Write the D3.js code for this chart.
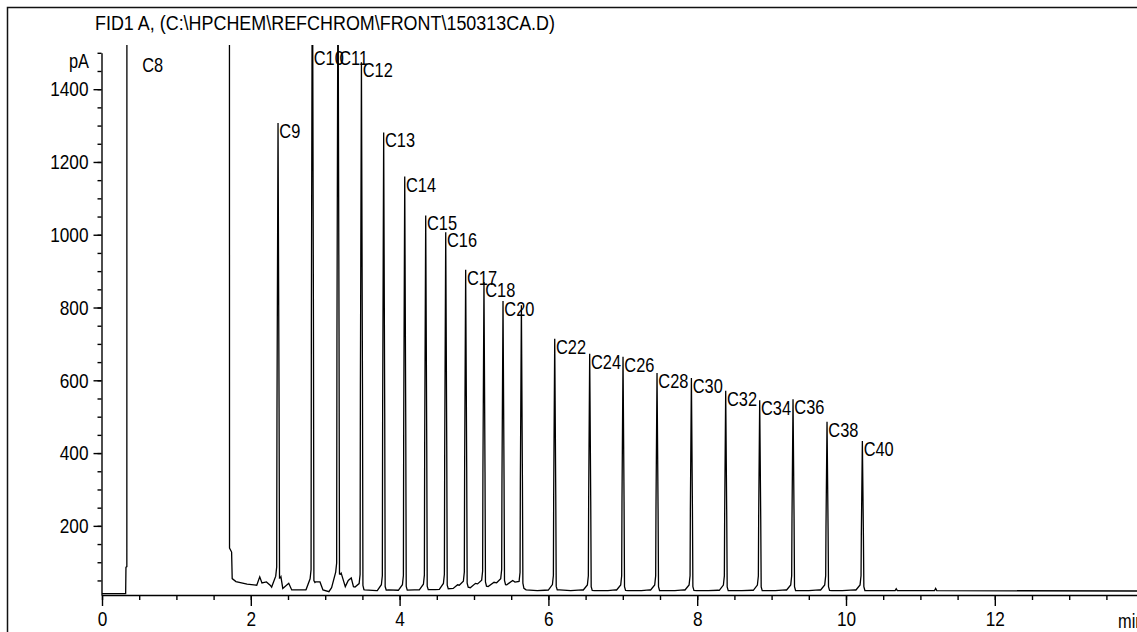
<!DOCTYPE html>
<html>
<head>
<meta charset="utf-8">
<script src="https://cdn.jsdelivr.net/npm/d3@7"></script>
<style>
  html, body { margin: 0; padding: 0; background: #fff; }
  svg { display: block; }
  text { font-family: "Liberation Sans", Arial, sans-serif; font-size: 20px; fill: #000; }
</style>
</head>
<body>
<svg id="chart" width="1137" height="632"></svg>
<script>
// ---------------- data ----------------
const titleText = "FID1 A, (C:\\HPCHEM\\REFCHROM\\FRONT\\150313CA.D)";
const yUnit = "pA";
const xUnit = "min";

// labelled / unlabelled peaks (retention time in min, apex in pA)
const peakNames   = ["C9", "C10", "C11", "C12", "C13", "C14", "C15", "C16", "C17", "C18", "C20", "",
                     "C22", "C24", "C26", "C28", "C30", "C32", "C34", "C36", "C38", "C40"];
const peakTimes   = [2.370, 2.832, 3.176, 3.491, 3.790, 4.073, 4.355, 4.624, 4.892, 5.138, 5.394, 5.641,
                     6.089, 6.559, 7.007, 7.464, 7.926, 8.387, 8.844, 9.292, 9.749, 10.224];
const peakHeights = [1307, 1900, 1800, 1474, 1281, 1160, 1053, 1007, 904, 870, 818, 806,
                     714, 673, 665, 620, 606, 571, 545, 548, 486, 433];

// solvent (C8) peak, off scale
const solventName = "C8";
const solventApexTime = 0.52;
const solventTimes  = [0, 0.300, 0.318, 0.322, 0.334, 0.338, 1.708, 1.714, 1.742, 1.750, 1.800];
const solventValues = [14, 14, 14, 86, 88, 9000, 9000, 139, 128, 55, 47];

// baseline between the peaks
const baselineTimes  = [1.80, 1.95, 2.08, 2.12, 2.15, 2.21, 2.26, 2.31, 2.405, 2.43, 2.51, 2.55, 2.74,
                        2.87, 2.93, 2.97, 3.05, 3.215, 3.27, 3.31, 3.35, 3.38, 3.53, 3.69,
                        3.85, 3.98, 4.20, 4.48, 4.72, 4.78, 4.95, 5.02, 5.19, 5.27, 5.44, 5.52,
                        5.70, 5.85, 5.95, 6.15, 6.30, 6.45, 6.62, 6.80, 6.90, 7.07, 7.25, 7.36,
                        7.52, 7.70, 7.82, 7.99, 8.15, 8.28, 8.45, 8.60, 8.74, 8.90, 9.05, 9.19,
                        9.35, 9.50, 9.64, 9.81, 9.95, 10.12, 10.28, 10.66, 10.675, 10.69,
                        11.19, 11.205, 11.22, 13.95];
const baselineValues = [47, 40, 37, 60, 43, 46, 37, 24, 60, 28, 42, 24, 24,
                        46, 46, 24, 19, 70, 33, 50, 57, 33, 24, 22,
                        24, 23, 24, 25, 28, 38, 30, 42, 33, 45, 38, 50,
                        24, 22, 23, 24, 22, 24, 22, 22, 24, 22, 22, 24,
                        22, 22, 24, 22, 22, 23, 22, 22, 23, 22, 22, 24,
                        22, 22, 24, 22, 22, 24, 22, 22, 27, 22,
                        22, 28, 22, 21];

const xMajorTicks = [0, 2, 4, 6, 8, 10, 12];
const yMajorTicks = [200, 400, 600, 800, 1000, 1200, 1400];

// ---------------- layout ----------------
const svg = d3.select("#chart");
const W = 1137, H = 632;
const x = d3.scaleLinear().domain([0, 14]).range([102, 102 + 14 * 74.4]);
const y = d3.scaleLinear().domain([10, 1500]).range([595, 595 - 1490 * 0.3639]);
const clipTop = 45;
const SX = 0.82;

// frame
svg.append("path")
  .attr("d", `M7.5,${H} V7.5 H${W}`)
  .attr("fill", "none").attr("stroke", "#111").attr("stroke-width", 1.5);

// title
svg.append("text")
  .attr("x", 95).attr("y", 30)
  .attr("textLength", 460).attr("lengthAdjust", "spacingAndGlyphs")
  .text(titleText);

// ---------------- axes ----------------
function condense(sel) {
  sel.selectAll("text").each(function () {
    const t = d3.select(this);
    const tx = +t.attr("x") || 0;
    t.attr("x", tx / SX).attr("transform", `scale(${SX},1)`);
  });
}

const yMinor = d3.range(50, 1501, 50);
const gyMinor = svg.append("g").attr("transform", `translate(${x(0) - 0.5},0)`)
  .call(d3.axisLeft(y).tickValues(yMinor).tickSize(4).tickFormat(""));
gyMinor.select(".domain").remove();
const gy = svg.append("g").attr("transform", `translate(${x(0) - 0.5},0)`)
  .call(d3.axisLeft(y).tickValues(yMajorTicks).tickSize(8).tickSizeOuter(0).tickPadding(5).tickFormat(d3.format("d")));
gy.selectAll("line, path").attr("stroke", "#000").attr("stroke-width", 1.4);
gyMinor.selectAll("line").attr("stroke", "#000").attr("stroke-width", 1.4);
gy.selectAll("text").style("font-size", "21px").style("font-family", '"Liberation Sans", Arial, sans-serif');
condense(gy);

const xMinor = d3.range(0, 14.01, 0.5);
const gxMinor = svg.append("g").attr("transform", `translate(0,${y(10)})`)
  .call(d3.axisBottom(x).tickValues(xMinor).tickSize(5).tickFormat(""));
gxMinor.select(".domain").remove();
const gx = svg.append("g").attr("transform", `translate(0,${y(10)})`)
  .call(d3.axisBottom(x).tickValues(xMajorTicks).tickSize(11).tickSizeOuter(0).tickPadding(5).tickFormat(d3.format("d")));
gx.selectAll("line, path").attr("stroke", "#000").attr("stroke-width", 1.4);
gxMinor.selectAll("line").attr("stroke", "#000").attr("stroke-width", 1.4);
gx.selectAll("text").style("font-size", "21px").style("font-family", '"Liberation Sans", Arial, sans-serif');
condense(gx);

function label(xp, yp, s, anchor) {
  svg.append("text")
    .attr("transform", `translate(${xp},${yp}) scale(${SX},1)`)
    .attr("text-anchor", anchor || "start")
    .text(s);
}
label(x(0) - 13, 68, yUnit, "end");
label(1118, 628, xUnit, "start");

// ---------------- trace ----------------
const baseAt = d3.scaleLinear().domain(baselineTimes).range(baselineValues).clamp(true);
let pts = solventTimes.map((t, i) => [t, solventValues[i]]);
baselineTimes.forEach((t, i) => {
  const inPeak = peakTimes.some(p => t > p - 0.09 && t < p + 0.03);
  if (!inPeak) pts.push([t, baselineValues[i]]);
});
peakTimes.forEach((t, i) => {
  const h = peakHeights[i];
  const b = baseAt(t);
  pts.push([t - 0.09, baseAt(t - 0.09)]);
  pts.push([t - 0.035, b + 15]);
  pts.push([t - 0.022, b + 40]);
  pts.push([t - 0.018, Math.max(b + 40, 0.4 * h)]);
  pts.push([t - 0.004, h]);
  pts.push([t + 0.010, 0.4 * h]);
  pts.push([t + 0.016, b + 10]);
  pts.push([t + 0.030, baseAt(t + 0.03)]);
});
pts.sort((a, b) => a[0] - b[0]);

svg.append("clipPath").attr("id", "plotclip")
  .append("rect").attr("x", x(0)).attr("y", clipTop).attr("width", W - x(0)).attr("height", y(10) - clipTop + 2);

svg.append("path")
  .datum(pts)
  .attr("clip-path", "url(#plotclip)")
  .attr("fill", "none").attr("stroke", "#000").attr("stroke-width", 1.3)
  .attr("stroke-linejoin", "miter")
  .attr("d", d3.line().x(d => x(d[0])).y(d => y(d[1])));

// ---------------- peak labels ----------------
const yTopVal = y.invert(clipTop);
label(x(solventApexTime) + 1.5, 72, solventName);
peakTimes.forEach((t, i) => {
  if (!peakNames[i]) return;
  const h = peakHeights[i];
  const ay = h > yTopVal ? 50 : y(h);
  label(x(t) + 1, ay + 15, peakNames[i]);
});
</script>
</body>
</html>
